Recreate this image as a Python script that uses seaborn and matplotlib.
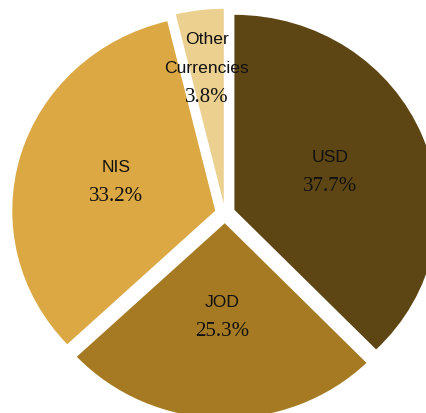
import numpy as np
import seaborn as sns
import matplotlib.pyplot as plt

# currency shares of deposits
currencies = ['USD', 'JOD', 'NIS', 'Other\nCurrencies']
shares = [37.7, 25.3, 33.2, 3.8]
colors = ['#5E4614', '#A57A22', '#DBA843', '#EBD08F']

sns.set_theme(style='white')

fig = plt.figure(figsize=(4.26, 4.13), dpi=100)
ax = fig.add_axes([0, 0, 1, 1])

wedges, _ = ax.pie(shares, colors=colors, startangle=90, counterclock=False,
                   explode=[0.05] * 4, radius=1.0,
                   wedgeprops=dict(linewidth=0))

# pie is a bit wider than tall in the reference, and cropped right/bottom
ax.set_aspect('auto')
ax.set_xlim(-225 / 203, (426 - 225) / 203)
ax.set_ylim(-(413 - 213.5) / 195, 213.5 / 195)
ax.axis('off')

label_dist = [0.56, 0.53, 0.56, 0.75]
gap = 29 * 0.72  # line gap, px -> pt
for w, name, val, d in zip(wedges, currencies, shares, label_dist):
    ang = np.deg2rad((w.theta1 + w.theta2) / 2)
    x, y = d * np.cos(ang), d * np.sin(ang)
    lines = name.split('\n') + ['%.1f%%' % val]
    n = len(lines)
    for i, txt in enumerate(lines):
        dy = ((n - 1) / 2 - i) * gap
        last = i == n - 1
        ax.annotate(txt, (x, y), xytext=(0, dy), textcoords='offset points',
                    ha='center', va='center',
                    fontsize=15 if last else 12.6,
                    family='Liberation Serif' if last else 'Liberation Sans',
                    color='#111111')

fig.savefig('out.png', dpi=100)
